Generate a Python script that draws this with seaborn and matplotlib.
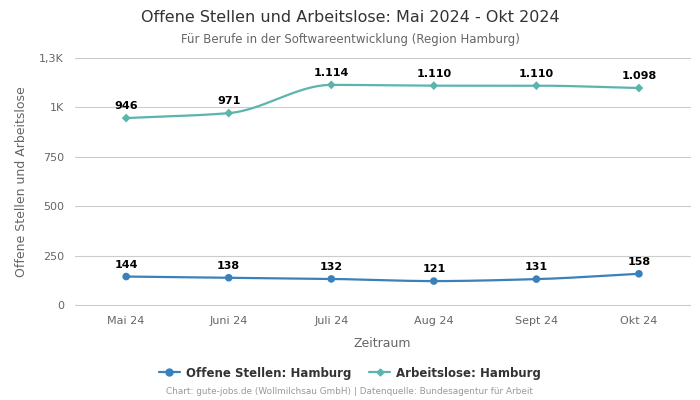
import numpy as np
import pandas as pd
import matplotlib
matplotlib.use("Agg")
import matplotlib.pyplot as plt
import seaborn as sns

# data
months = ["Mai 24", "Juni 24", "Juli 24", "Aug 24", "Sept 24", "Okt 24"]
offene_stellen = [144, 138, 132, 121, 131, 158]
arbeitslose = [946, 971, 1114, 1110, 1110, 1098]

y_ticks = [0, 250, 500, 750, 1000, 1250]
y_tick_labels = ["0", "250", "500", "750", "1K", "1,3K"]

blue = "#3a80ba"
teal = "#5bb5ad"
grey = "#666666"


def monotone_curve(y, n=40):
    # monotone cubic (Fritsch-Carlson) just for drawing a smooth line
    y = np.asarray(y, dtype=float)
    x = np.arange(len(y), dtype=float)
    d = np.diff(y)
    m = np.zeros_like(y)
    m[0], m[-1] = d[0], d[-1]
    for i in range(1, len(y) - 1):
        if d[i - 1] * d[i] <= 0:
            m[i] = 0
        else:
            m[i] = 2 / (1 / d[i - 1] + 1 / d[i])
    xs, ys = [], []
    for i in range(len(y) - 1):
        t = np.linspace(0, 1, n)
        h00 = 2 * t**3 - 3 * t**2 + 1
        h10 = t**3 - 2 * t**2 + t
        h01 = -2 * t**3 + 3 * t**2
        h11 = t**3 - t**2
        xs.append(x[i] + t)
        ys.append(h00 * y[i] + h10 * m[i] + h01 * y[i + 1] + h11 * m[i + 1])
    return np.concatenate(xs), np.concatenate(ys)


def fmt(v):
    return f"{v:,}".replace(",", ".")


df = pd.DataFrame({
    "pos": list(range(len(months))) * 2,
    "wert": offene_stellen + arbeitslose,
    "serie": ["Offene Stellen: Hamburg"] * len(months) + ["Arbeitslose: Hamburg"] * len(months),
})

sns.set_style("white")
plt.rcParams["font.family"] = ["DejaVu Sans"]

fig = plt.figure(figsize=(7, 4), dpi=100)
ax = fig.add_axes([0.107, 0.2375, 0.879, 0.6175])

for vals, col in [(offene_stellen, blue), (arbeitslose, teal)]:
    cx, cy = monotone_curve(vals)
    ax.plot(cx, cy, color=col, lw=1.6, zorder=3)

sns.scatterplot(data=df, x="pos", y="wert", hue="serie", style="serie",
                palette={"Offene Stellen: Hamburg": blue, "Arbeitslose: Hamburg": teal},
                markers={"Offene Stellen: Hamburg": "o", "Arbeitslose: Hamburg": "D"},
                size="serie", sizes={"Offene Stellen: Hamburg": 30, "Arbeitslose: Hamburg": 20},
                edgecolor="none", legend=False, ax=ax, zorder=4)

for i, v in enumerate(offene_stellen):
    ax.annotate(fmt(v), (i, v), xytext=(0, 5), textcoords="offset points",
                ha="center", va="bottom", fontsize=8, fontweight="bold", color="black")
for i, v in enumerate(arbeitslose):
    ax.annotate(fmt(v), (i, v), xytext=(0, 5), textcoords="offset points",
                ha="center", va="bottom", fontsize=8, fontweight="bold", color="black")

ax.set_xlim(-0.5, len(months) - 0.5)
ax.set_ylim(0, 1250)
ax.set_xticks(range(len(months)))
ax.set_xticklabels(months)
ax.set_yticks(y_ticks)
ax.set_yticklabels(y_tick_labels)
ax.tick_params(axis="both", length=0, labelsize=8, labelcolor=grey, pad=8)
for yt in y_ticks:
    ax.axhline(yt, color="#cccccc", lw=0.8, zorder=1, clip_on=False)
for s in ax.spines.values():
    s.set_visible(False)
ax.set_xlabel("Zeitraum", fontsize=9, color=grey, labelpad=8)
ax.set_ylabel("Offene Stellen und Arbeitslose", fontsize=9, color=grey, labelpad=8)

fig.text(0.5, 1 - 17 / 400, "Offene Stellen und Arbeitslose: Mai 2024 - Okt 2024",
         ha="center", va="center", fontsize=11.5, color="#333333")
fig.text(0.5, 1 - 39 / 400, "Für Berufe in der Softwareentwicklung (Region Hamburg)",
         ha="center", va="center", fontsize=8.5, color=grey)

handles = [
    plt.Line2D([], [], color=blue, marker="o", ms=5, lw=1.6, label="Offene Stellen: Hamburg"),
    plt.Line2D([], [], color=teal, marker="D", ms=3.5, lw=1.6, label="Arbeitslose: Hamburg"),
]
leg = fig.legend(handles=handles, loc="center", bbox_to_anchor=(0.5, 1 - 373 / 400),
                 ncol=2, frameon=False, fontsize=8.5, handlelength=1.8,
                 columnspacing=1.5, handletextpad=0.5)
for t in leg.get_texts():
    t.set_fontweight("bold")
    t.set_color("#333333")

fig.text(0.5, 1 - 392 / 400,
         "Chart: gute-jobs.de (Wollmilchsau GmbH) | Datenquelle: Bundesagentur für Arbeit",
         ha="center", va="center", fontsize=6.4, color="#999999")

fig.savefig("out.png", dpi=100)
